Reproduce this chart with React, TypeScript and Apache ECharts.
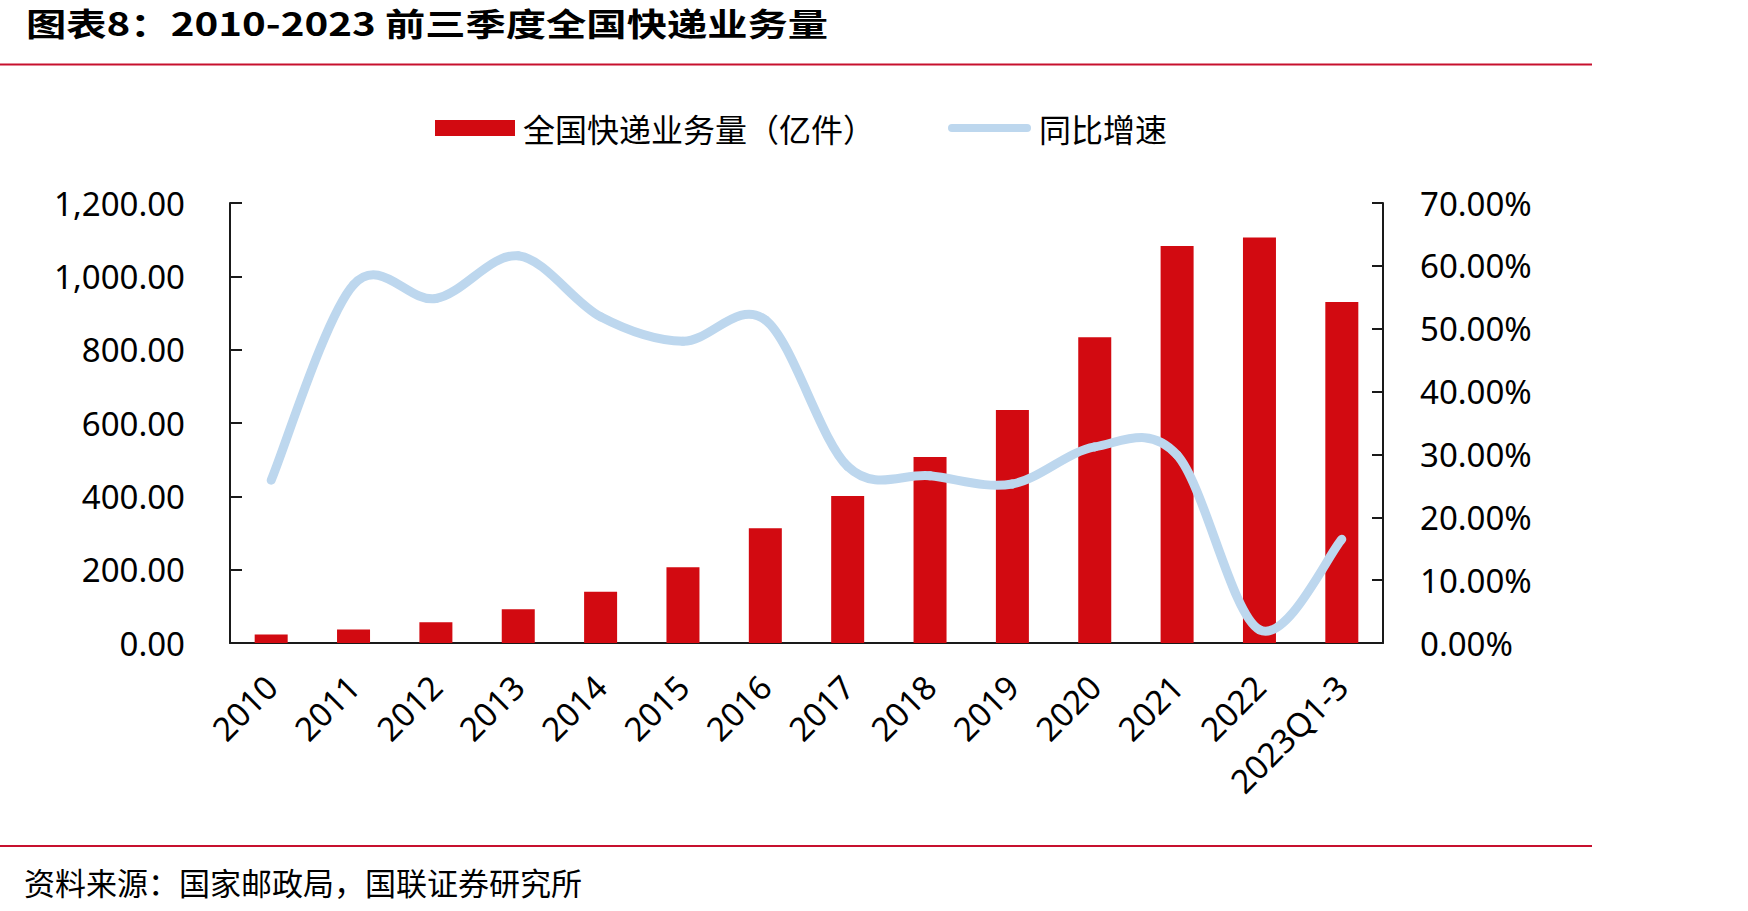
import React, { useEffect, useRef } from "react";
import * as echarts from "echarts";

// 全国快递业务量（亿件）与同比增速
const categories = [
  "2010", "2011", "2012", "2013", "2014", "2015", "2016",
  "2017", "2018", "2019", "2020", "2021", "2022", "2023Q1-3",
];
const volume = [
  23.4, 36.7, 56.9, 91.9, 139.6, 206.7, 312.8,
  400.6, 507.1, 635.2, 833.6, 1083.0, 1105.8, 930.0,
];
const growth = [
  25.9, 57.0, 54.8, 61.6, 51.9, 48.0, 51.4,
  28.1, 26.6, 25.3, 31.2, 29.9, 2.1, 16.5,
];

const volumeAxis = { min: 0, max: 1200, interval: 200 };
const growthAxis = { min: 0, max: 70, interval: 10 };

const titleText = "图表8：2010-2023 前三季度全国快递业务量";
const sourceText = "资料来源：国家邮政局，国联证券研究所";
const volumeName = "全国快递业务量（亿件）";
const growthName = "同比增速";

const LATIN = '"Noto Sans", "Noto Sans CJK SC", sans-serif';
const CJK = '"Noto Sans CJK SC", "Noto Sans", sans-serif';
const RED = "#D20A11";
const BLUE = "#BDD7EE";
const RULE = "#C7102E";
const AXIS = "#1a1a1a";

// Smoothed growth line: one cubic Bezier per segment, tangents taken from the
// neighbouring points (Catmull-Rom style, 1/6 of the neighbour difference).
function renderGrowthSegment(params: any, api: any) {
  const i = params.dataIndex;
  const n = growth.length;
  if (i >= n - 1) return null;
  const pt = (k: number) => {
    const j = Math.max(0, Math.min(n - 1, k));
    return api.coord([j, growth[j]]);
  };
  const p0 = pt(i - 1);
  const p1 = pt(i);
  const p2 = pt(i + 1);
  const p3 = pt(i + 2);
  return {
    type: "bezierCurve",
    shape: {
      x1: p1[0],
      y1: p1[1],
      x2: p2[0],
      y2: p2[1],
      cpx1: p1[0] + (p2[0] - p0[0]) / 6,
      cpy1: p1[1] + (p2[1] - p0[1]) / 6,
      cpx2: p2[0] - (p3[0] - p1[0]) / 6,
      cpy2: p2[1] - (p3[1] - p1[1]) / 6,
    },
    style: { stroke: BLUE, lineWidth: 9, lineCap: "round", fill: null },
  };
}

export default function App() {
  const ref = useRef<HTMLDivElement>(null);

  useEffect(() => {
    document.body.style.margin = "0";
    const chart = echarts.init(ref.current!, null, { renderer: "svg" });

    const axisLabel = { color: "#000", fontSize: 33, fontFamily: LATIN };

    chart.setOption({
      animation: false,
      backgroundColor: "#fff",
      grid: { left: 230, right: 365, top: 203, bottom: 268, containLabel: false },
      legend: [
        {
          data: [{ name: volumeName, icon: "rect" }],
          left: 430,
          top: 107,
          itemWidth: 80,
          itemHeight: 16,
          textStyle: { color: "#000", fontSize: 32, fontFamily: CJK, padding: [0, 0, 0, 3] },
        },
        {
          data: [
            {
              name: growthName,
              icon: "path://M4,0 L79,0 A4,4 0 0 1 79,8 L4,8 A4,4 0 0 1 4,0 Z",
              itemStyle: { color: BLUE },
            },
          ],
          left: 943,
          top: 107,
          itemWidth: 83,
          itemHeight: 9,
          textStyle: { color: "#000", fontSize: 32, fontFamily: CJK, padding: [0, 0, 0, 3] },
        },
      ],
      xAxis: {
        type: "category",
        data: categories,
        axisLine: { show: true, lineStyle: { color: AXIS, width: 2 } },
        axisTick: { show: false },
        axisLabel: { ...axisLabel, rotate: 45, margin: 38, interval: 0 },
        splitLine: { show: false },
      },
      yAxis: [
        {
          type: "value",
          position: "left",
          ...volumeAxis,
          axisLine: { show: true, lineStyle: { color: AXIS, width: 2 } },
          axisTick: { show: true, inside: true, length: 12, lineStyle: { color: AXIS, width: 2 } },
          splitLine: { show: false },
          axisLabel: {
            ...axisLabel,
            margin: 45,
            formatter: (v: number) =>
              v.toLocaleString("en-US", { minimumFractionDigits: 2, maximumFractionDigits: 2 }),
          },
        },
        {
          type: "value",
          position: "right",
          ...growthAxis,
          axisLine: { show: true, lineStyle: { color: AXIS, width: 2 } },
          axisTick: { show: true, inside: true, length: 11, lineStyle: { color: AXIS, width: 2 } },
          splitLine: { show: false },
          axisLabel: {
            ...axisLabel,
            margin: 37,
            formatter: (v: number) => v.toFixed(2) + "%",
          },
        },
      ],
      series: [
        {
          name: volumeName,
          type: "bar",
          yAxisIndex: 0,
          data: volume,
          barWidth: 33,
          itemStyle: { color: RED },
          z: 2,
        },
        {
          name: growthName,
          type: "custom",
          xAxisIndex: 0,
          yAxisIndex: 1,
          data: growth.map((v, i) => [i, v]),
          encode: { x: 0, y: 1 },
          renderItem: renderGrowthSegment,
          itemStyle: { color: BLUE },
          clip: false,
          z: 3,
        },
      ],
      graphic: [
        {
          type: "text",
          x: 26,
          y: 22,
          scaleX: 1.26,
          style: {
            text: titleText,
            font: `bold 32px ${CJK}`,
            fill: "#000",
            textAlign: "left",
            textVerticalAlign: "middle",
          },
        },
        {
          type: "line",
          shape: { x1: 0, y1: 64.5, x2: 1592, y2: 64.5 },
          style: { stroke: RULE, lineWidth: 2 },
        },
        {
          type: "line",
          shape: { x1: 0, y1: 846, x2: 1592, y2: 846 },
          style: { stroke: RULE, lineWidth: 2 },
        },
        {
          type: "text",
          x: 24,
          y: 881,
          style: {
            text: sourceText,
            font: `31px ${CJK}`,
            fill: "#000",
            textAlign: "left",
            textVerticalAlign: "middle",
          },
        },
      ],
    });

    return () => chart.dispose();
  }, []);

  return <div ref={ref} style={{ width: 1748, height: 911 }} />;
}
